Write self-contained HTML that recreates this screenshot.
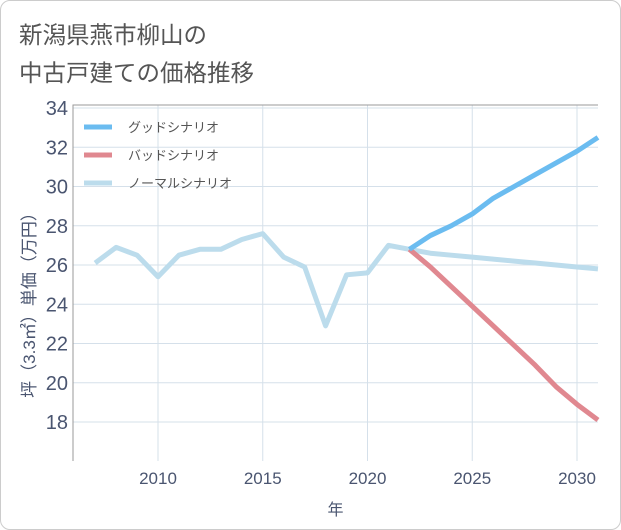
<!DOCTYPE html>
<html><head><meta charset="utf-8"><style>
body{margin:0;background:#fff;font-family:"Liberation Sans","Noto Sans CJK JP",sans-serif}
#wrap{position:relative;width:619px;height:528px;border:1px solid #ccc;border-radius:10px;overflow:hidden;background:#fff}
.title{position:absolute;left:18px;font-size:23.5px;color:#555}
</style></head><body>
<div id="wrap">
<div class="title" style="top:15px">新潟県燕市柳山の</div>
<div class="title" style="top:53px">中古戸建ての価格推移</div>
<svg id="chart" width="621" height="530" style="position:absolute;left:0;top:0"></svg>
</div>
<script>
const years=[2007,2008,2009,2010,2011,2012,2013,2014,2015,2016,2017,2018,2019,2020,2021,2022,2023,2024,2025,2026,2027,2028,2029,2030,2031];
const normalVals=[26.1,26.9,26.5,25.4,26.5,26.8,26.8,27.3,27.6,26.4,25.9,22.9,25.5,25.6,27.0,26.8,26.6,26.5,26.4,26.3,26.2,26.1,26.0,25.9,25.8];
const futureYears=[2022,2023,2024,2025,2026,2027,2028,2029,2030,2031];
const goodVals=[26.8,27.5,28.0,28.6,29.4,30.0,30.6,31.2,31.8,32.5];
const badVals=[26.8,25.9,24.9,23.9,22.9,21.9,20.9,19.8,18.9,18.1];
const yTicks=[18,20,22,24,26,28,30,32,34];
const xTicks=[2010,2015,2020,2025,2030];
const L=72,R=597,T=104,B=460;
const x=v=>157+(v-2010)*(576-157)/20;
const y=v=>421-(v-18)*(421-107)/16;
const svg=document.getElementById('chart');
const NS='http://www.w3.org/2000/svg';
function mk(t,a,p){const e=document.createElementNS(NS,t);for(const k in a)e.setAttribute(k,a[k]);(p||svg).appendChild(e);return e;}
yTicks.forEach(v=>{const g=mk('line',{x1:L,x2:R,y1:y(v),y2:y(v),stroke:'#d5e0ea','stroke-width':1});
const t=mk('text',{x:L-5,y:y(v)+7,'text-anchor':'end','font-size':20,fill:'#4a5570'});t.textContent=v;});
xTicks.forEach(v=>{const g=mk('line',{x1:x(v),x2:x(v),y1:T,y2:B,stroke:'#d5e0ea','stroke-width':1});
const t=mk('text',{x:x(v),y:B+23,'text-anchor':'middle','font-size':17,fill:'#4a5570'});t.textContent=v;});
const ax=mk('path',{d:`M${L},${B}V${T}H${R}`,fill:'none',stroke:'#999','stroke-width':1});
function line(xs,vs,c,n){const d=xs.map((v,i)=>(i?'L':'M')+x(v)+','+y(vs[i])).join('');const p=mk('path',{d:d,fill:'none',stroke:c,'stroke-width':5,'stroke-linejoin':'round'});}
line(years,normalVals,'#bcdcec','normal-scenario-line');
line(futureYears,badVals,'#e08890','bad-scenario-line');
line(futureYears,goodVals,'#6bbcf0','good-scenario-line');
const leg=[['グッドシナリオ','#6bbcf0'],['バッドシナリオ','#e08890'],['ノーマルシナリオ','#bcdcec']];
leg.forEach((l,i)=>{const yy=126+i*28;const s=mk('line',{x1:83,x2:111,y1:yy,y2:yy,stroke:l[1],'stroke-width':5});
const t=mk('text',{x:127,y:yy+5,'font-size':13,fill:'#555'});t.textContent=l[0];});
const xt=mk('text',{x:(L+R)/2,y:514,'text-anchor':'middle','font-size':16,fill:'#4a5570'});xt.textContent='年';
const yt=mk('text',{x:0,y:0,'text-anchor':'middle','font-size':17,fill:'#4a5570',transform:'translate(34,300) rotate(-90)'});yt.textContent='坪（3.3㎡）単価（万円）';
</script>
</body></html>
